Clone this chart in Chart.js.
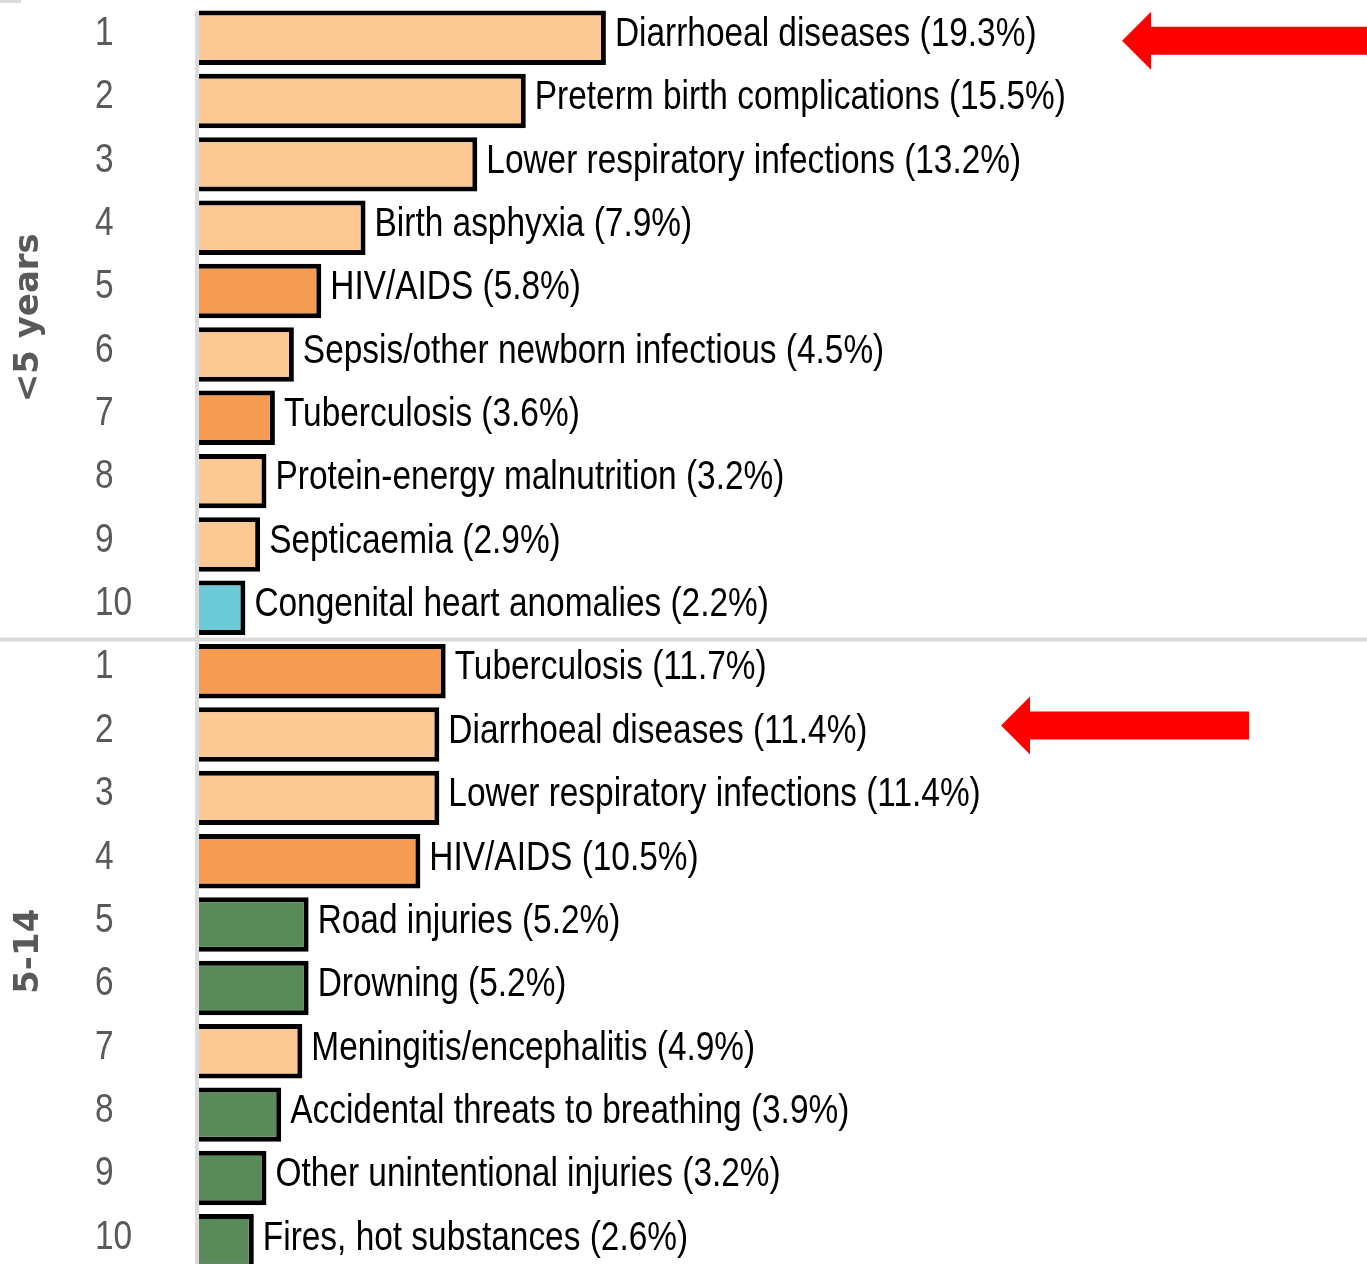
<!DOCTYPE html>
<html>
<head>
<meta charset="utf-8">
<script src="https://cdn.jsdelivr.net/npm/chart.js@4"></script>
<style>
  html, body { margin: 0; padding: 0; background: #fff; overflow: hidden; }
  canvas { display: block; }
</style>
</head>
<body>
<canvas id="chart" width="1367" height="1273"></canvas>
<script>
    // Données
    const groups = ['<5 years', '5-14'];
    const ranks = ['1', '2', '3', '4', '5', '6', '7', '8', '9', '10'];

    const causesUnder5 = ['Diarrhoeal diseases', 'Preterm birth complications', 'Lower respiratory infections',
        'Birth asphyxia', 'HIV/AIDS', 'Sepsis/other newborn infectious', 'Tuberculosis',
        'Protein-energy malnutrition', 'Septicaemia', 'Congenital heart anomalies'];
    const valuesUnder5 = [19.3, 15.5, 13.2, 7.9, 5.8, 4.5, 3.6, 3.2, 2.9, 2.2];
    const typesUnder5 = ['comm', 'comm', 'comm', 'comm', 'hivtb', 'comm', 'hivtb', 'comm', 'comm', 'ncd'];

    const causes5to14 = ['Tuberculosis', 'Diarrhoeal diseases', 'Lower respiratory infections', 'HIV/AIDS',
        'Road injuries', 'Drowning', 'Meningitis/encephalitis', 'Accidental threats to breathing',
        'Other unintentional injuries', 'Fires, hot substances'];
    const values5to14 = [11.7, 11.4, 11.4, 10.5, 5.2, 5.2, 4.9, 3.9, 3.2, 2.6];
    const types5to14 = ['hivtb', 'comm', 'comm', 'hivtb', 'inj', 'inj', 'comm', 'inj', 'inj', 'inj'];

    // lignes marquées d'une flèche (index global)
    const arrowRows = [0, 11];

    const typeColors = {
        comm: '#FCC994',
        hivtb: '#F69C52',
        ncd: '#6DCAD8',
        inj: '#5A8A5A'
    };

    const causes = causesUnder5.concat(causes5to14);
    const values = valuesUnder5.concat(values5to14);
    const types = typesUnder5.concat(types5to14);
    const rankLabels = ranks.concat(ranks);

    const NARROW = 0.815;
    function narrowText(ctx, text, x, y) {
        ctx.save();
        ctx.translate(x, y);
        ctx.scale(NARROW, 1);
        ctx.fillText(text, 0, 0);
        ctx.restore();
    }

    function drawArrow(ctx, tipX, endX, y) {
        ctx.save();
        ctx.fillStyle = '#FF0000';
        ctx.beginPath();
        ctx.moveTo(tipX, y);
        ctx.lineTo(tipX + 29, y - 29);
        ctx.lineTo(tipX + 29, y - 14);
        ctx.lineTo(endX, y - 14);
        ctx.lineTo(endX, y + 14);
        ctx.lineTo(tipX + 29, y + 14);
        ctx.lineTo(tipX + 29, y + 29);
        ctx.closePath();
        ctx.fill();
        ctx.restore();
    }

    const decorPlugin = {
        id: 'decor',
        beforeDatasetsDraw(chart) {
            const ctx = chart.ctx;
            const y = chart.scales.y;
            const area = chart.chartArea;
            ctx.save();
            ctx.strokeStyle = '#D9DAD9';
            ctx.lineWidth = 4;
            // axe vertical
            ctx.beginPath();
            ctx.moveTo(area.left - 2, y.getPixelForValue(0) - 27);
            ctx.lineTo(area.left - 2, chart.height);
            ctx.stroke();
            // séparateur entre groupes
            const sep = (y.getPixelForValue(9) + y.getPixelForValue(10)) / 2;
            ctx.beginPath();
            ctx.moveTo(0, sep);
            ctx.lineTo(chart.width, sep);
            ctx.stroke();
            // petit trait en haut à gauche
            ctx.beginPath();
            ctx.moveTo(0, 1);
            ctx.lineTo(21, 1);
            ctx.stroke();
            ctx.restore();
        },
        afterDatasetsDraw(chart) {
            const ctx = chart.ctx;
            const meta = chart.getDatasetMeta(0);
            const y = chart.scales.y;
            ctx.save();
            ctx.textBaseline = 'middle';
            ctx.textAlign = 'left';
            ctx.font = '41px "Liberation Sans", Arial, sans-serif';
            meta.data.forEach((bar, i) => {
                ctx.fillStyle = '#000';
                narrowText(ctx, causes[i] + ' (' + values[i].toFixed(1) + '%)', bar.x + 9, bar.y - 3);
                ctx.fillStyle = '#595959';
                narrowText(ctx, rankLabels[i], 95, bar.y - 4);
            });

            // libellés de groupe verticaux
            ctx.font = 'bold 34px "DejaVu Sans", sans-serif';
            ctx.fillStyle = '#595959';
            ctx.textAlign = 'center';
            groups.forEach((g, gi) => {
                const mid = (y.getPixelForValue(gi * 10) + y.getPixelForValue(gi * 10 + 9)) / 2 - 5;
                ctx.save();
                ctx.translate(29, mid);
                ctx.rotate(-Math.PI / 2);
                ctx.fillText(g, 0, 0);
                ctx.restore();
            });

            // flèches rouges
            drawArrow(ctx, 1122, chart.width + 5, y.getPixelForValue(arrowRows[0]) + 3);
            drawArrow(ctx, 1001, 1249, y.getPixelForValue(arrowRows[1]) - 9);
            ctx.restore();
        }
    };

    const ctxChart = document.getElementById('chart').getContext('2d');
    new Chart(ctxChart, {
        type: 'bar',
        data: {
            labels: causes,
            datasets: [{
                data: values,
                backgroundColor: types.map(t => typeColors[t]),
                borderColor: '#000',
                borderWidth: 5,
                borderSkipped: 'start',
                barPercentage: 0.86,
                categoryPercentage: 1
            }]
        },
        options: {
            indexAxis: 'y',
            responsive: false,
            animation: false,
            layout: {
                padding: { left: 199, top: 6, right: 0, bottom: 0 }
            },
            scales: {
                x: { type: 'linear', min: 0, max: 55.4, display: false },
                y: { display: false }
            },
            plugins: {
                legend: { display: false },
                tooltip: { enabled: false }
            }
        },
        plugins: [decorPlugin]
    });
</script>
</body>
</html>
